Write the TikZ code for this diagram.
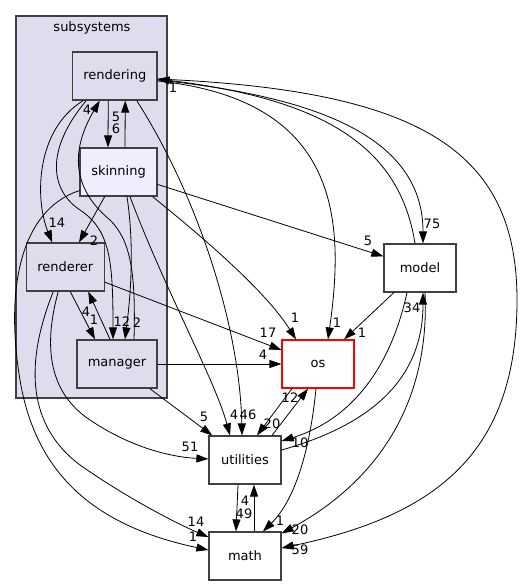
\documentclass[tikz,border=0pt]{standalone}
\usepackage{fontspec}
\setmainfont{DejaVu Sans}
\usetikzlibrary{arrows.meta}
\definecolor{dirfill}{HTML}{DDDDEE}
\definecolor{subfill}{HTML}{EEEEFF}
\definecolor{dirline}{HTML}{404040}
\begin{document}
\begin{tikzpicture}[x=1pt, y=-1pt, thick, font=\fontsize{13}{15}\selectfont,
  >={Triangle[length=12pt,width=8pt]},
  main/.style = {draw=dirline, line width=1.2pt, minimum width=72pt, minimum height=48pt, inner sep=1pt},
  inner/.style = {main, fill=dirfill},
  num/.style = {inner sep=0pt}]
\useasboundingbox (0,0) rectangle (523,585);
\draw[dirline, fill=dirfill, line width=1.2pt] (16,16) rectangle (167,398);
\node[anchor=base] (subsystems) at (92,32) {subsystems};
\node[inner, minimum width=84.5pt] (rendering) at (114.75,76) {rendering};
\node[inner, fill=subfill, minimum width=77pt] (skinning) at (118.5,172) {skinning};
\node[inner, minimum width=78pt] (renderer) at (65.25,267) {renderer};
\node[inner, minimum width=80pt] (manager) at (117,364) {manager};
\node[main] (model) at (420,268) {model};
\node[main, draw=red] (os) at (318,364) {os};
\node[main] (utilities) at (245,460) {utilities};
\node[main] (math) at (245,556) {math};
% rendering
\draw[->] ([xshift=-6.5pt]rendering.south) -- ([xshift=-10.5pt]skinning.north);
\draw[->] ([xshift=-31.5pt]rendering.south) .. controls (35,130) and (35,200) .. ([xshift=-13pt]renderer.north);
\draw[->] ([xshift=-28.5pt]rendering.south) .. controls (45,150) and (50,190) .. (80,210) .. controls (110,230) and (113,260) .. ([xshift=-4pt]manager.north);
\draw[->] ([xshift=22pt]rendering.south) .. controls (200,200) and (240,330) .. ([xshift=-3pt]utilities.north);
\draw[->] ([yshift=-4pt]rendering.east) .. controls (300,95) and (423,130) .. ([xshift=3pt]model.north);
\draw[->] ([yshift=-5pt]rendering.east) .. controls (340,100) and (345,220) .. ([xshift=10pt]os.north);
\draw[->] ([yshift=-3pt]rendering.east) .. controls (420,90) and (517,150) .. (517,300) .. controls (517,450) and (440,515) .. ([yshift=8pt]math.east);
% skinning
\draw[->] ([xshift=6.5pt]skinning.north) -- ([xshift=10.5pt]rendering.south);
\draw[->] (skinning) -- (renderer);
\draw[->] ([xshift=8.5pt]skinning.south) .. controls (135,250) and (130,300) .. ([xshift=8pt]manager.north);
\draw[->] ([xshift=11.5pt]skinning.south) .. controls (165,290) and (215,380) .. ([xshift=-15pt]utilities.north);
\draw[->] (skinning) -- (model);
\draw[->] ([xshift=34pt]skinning.south) .. controls (200,235) and (265,290) .. ([xshift=-22pt]os.north);
\draw[->] ([yshift=6pt]skinning.south west) .. controls (20,210) and (5,290) .. (20,380) .. controls (35,470) and (90,525) .. ([yshift=6pt]math.west);
% renderer
\draw[->] ([xshift=5pt]renderer.south) -- ([xshift=-22pt]manager.north);
\draw[->] (renderer) -- (os);
\draw[->] ([xshift=-7pt]renderer.south) .. controls (45,340) and (45,390) .. (90,420) .. controls (130,447) and (170,457) .. ([yshift=1pt]utilities.west);
\draw[->] ([xshift=-12pt]renderer.south) .. controls (30,350) and (20,420) .. (80,465) .. controls (130,500) and (180,525) .. ([yshift=19pt]math.west);
% manager
\draw[->] ([xshift=17pt]manager.north) .. controls (136,270) and (130,240) .. (110,220) .. controls (80,195) and (65,160) .. ([xshift=-15pt]rendering.south);
\draw[->] ([xshift=-7pt]manager.north) -- ([xshift=23pt]renderer.south);
\draw[->] (manager) -- (os);
\draw[->] (manager) -- (utilities);
% model
\draw[->] ([xshift=-5pt]model.north) .. controls (400,150) and (330,100) .. ([yshift=-3pt]rendering.east);
\draw[->] (model) -- (os);
\draw[->] ([xshift=-13pt]model.south) .. controls (390,370) and (350,420) .. ([yshift=19pt]utilities.east);
\draw[->] ([xshift=5pt]model.south) .. controls (430,400) and (380,480) .. ([yshift=-2pt]math.north east);
% os, utilities, math
\draw[->] ([xshift=-26pt]os.south) -- ([xshift=12pt]utilities.north);
\draw[->] ([xshift=-2pt]os.south) .. controls (310,450) and (295,500) .. ([xshift=18pt]math.north);
\draw[->] ([xshift=27pt]utilities.north) -- ([xshift=-10pt]os.south);
\draw[->] ([yshift=10pt]utilities.east) .. controls (370,425) and (423,380) .. ([xshift=3pt]model.south);
\draw[->] ([xshift=-7pt]utilities.south) -- ([xshift=-9pt]math.north);
\draw[->] ([xshift=9pt]math.north) -- ([xshift=9pt]utilities.south);
% counts
\node[num] (c1) at (116,117) {5};
\node[num] (c2) at (116,129) {6};
\node[num] (c3) at (87,110) {4};
\node[num] (c4) at (57,223) {14};
\node[num] (c5) at (94,241) {2};
\node[num] (c6) at (122,322) {12};
\node[num] (c7) at (137,323) {2};
\node[num] (c8) at (94,320) {1};
\node[num] (c9) at (86,312) {4};
\node[num] (c10) at (268,333) {17};
\node[num] (c11) at (263,355) {4};
\node[num] (c12) at (204,417) {5};
\node[num] (c13) at (190,447) {51};
\node[num] (c14) at (196,522) {14};
\node[num] (c15) at (193,537) {1};
\node[num] (c16) at (234,415) {4};
\node[num] (c17) at (248,415) {46};
\node[num] (c18) at (368,241) {5};
\node[num] (c19) at (295,318) {1};
\node[num] (c20) at (337,323) {1};
\node[num] (c21) at (362,333) {1};
\node[num] (c22) at (432,224) {75};
\node[num] (c23) at (173,88) {1};
\node[num] (c24) at (300,550) {59};
\node[num] (c25) at (300,443) {10};
\node[num] (c26) at (412,308) {34};
\node[num] (c27) at (300,530) {20};
\node[num] (c28) at (280,521) {1};
\node[num] (c29) at (272,424) {20};
\node[num] (c30) at (290,398) {12};
\node[num] (c31) at (245,501) {4};
\node[num] (c32) at (244,514) {49};
\end{tikzpicture}
\end{document}
